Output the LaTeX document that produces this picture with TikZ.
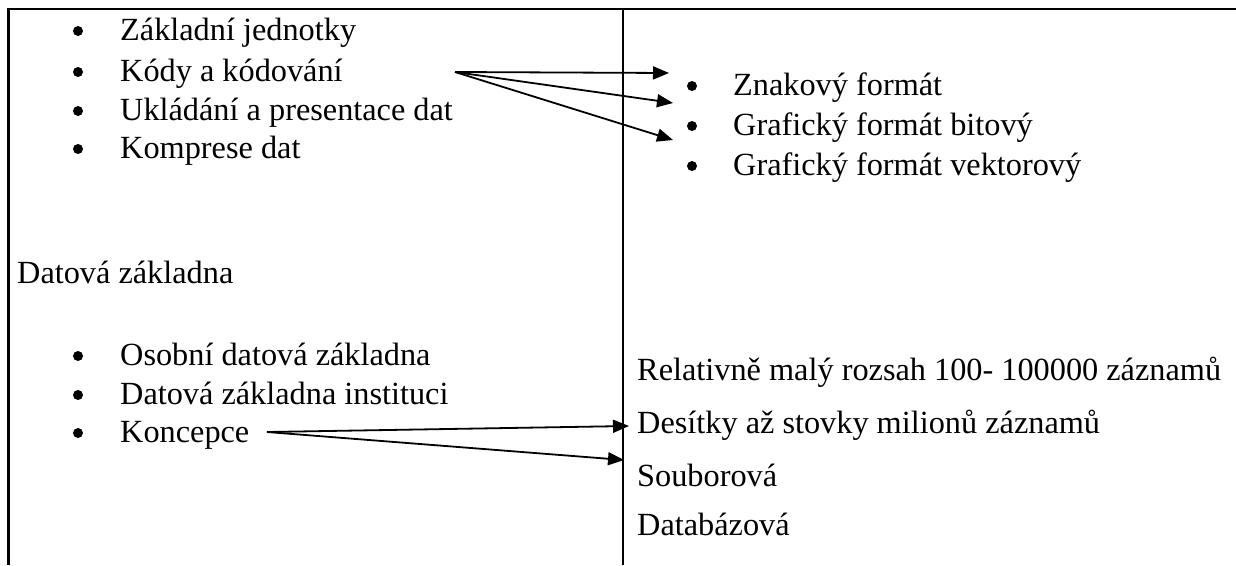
\documentclass[tikz,border=0pt]{standalone}
\usepackage{fontspec}
\setmainfont{Liberation Serif}
\usetikzlibrary{arrows.meta}
\begin{document}
\begin{tikzpicture}[x=1pt,y=-1pt,
  txt/.style={anchor=base west,inner sep=0pt,font=\fontsize{32.3}{37}\selectfont},
  dot/.style={circle,fill=black,inner sep=0pt,minimum size=10pt},
  rule/.style={line width=2.6pt},
  link/.style={line width=1.8pt,-{Triangle[length=16pt,width=13pt]}}]
\useasboundingbox (0,0) rectangle (1236,565);
% table frame
\draw[rule] (8.5,565) -- (8.5,9) -- (1236,9);
\draw[rule] (623,9) -- (623,565);
% left column, upper list
\foreach \n/\t/\y in {a/Základní jednotky/40, b/Kódy a kódování/81, c/Ukládání a presentace dat/120, d/Komprese dat/158}{
  \node[dot] (bl\n) at (78,\y-9) {};
  \node[txt] (l\n) at (120,\y) {\t};
}
% right column, upper list
\foreach \n/\t/\y in {a/Znakový formát/95, b/Grafický formát bitový/135, c/Grafický formát vektorový/175}{
  \node[dot] (br\n) at (692,\y-9) {};
  \node[txt] (r\n) at (733,\y) {\t};
}
% left column, lower part
\node[txt] (head) at (17,283) {Datová základna};
\foreach \n/\t/\y in {a/Osobní datová základna/365, b/Datová základna instituci/404, c/Koncepce/442}{
  \node[dot] (bm\n) at (78,\y-9) {};
  \node[txt] (m\n) at (120,\y) {\t};
}
% right column, lower part
\node[txt] (s1) at (637,380) {Relativně malý rozsah 100- 100000 záznamů};
\node[txt] (s2) at (637,433) {Desítky až stovky milionů záznamů};
\node[txt] (s3) at (637,486) {Souborová};
\node[txt] (s4) at (637,535) {Databázová};
% connectors
\coordinate (ko) at (455,72);
\coordinate (t1) at (669,73);
\coordinate (t2) at (673,103);
\coordinate (t3) at (673,140);
\draw[link] (ko) -- (t1);
\draw[link] (ko) -- (t2);
\draw[link] (ko) -- (t3);
\coordinate (kc) at (267,432);
\coordinate (u1) at (629,426);
\coordinate (u2) at (624,460);
\draw[link] (kc) -- (u1);
\draw[link] (kc) -- (u2);
\end{tikzpicture}
\end{document}
